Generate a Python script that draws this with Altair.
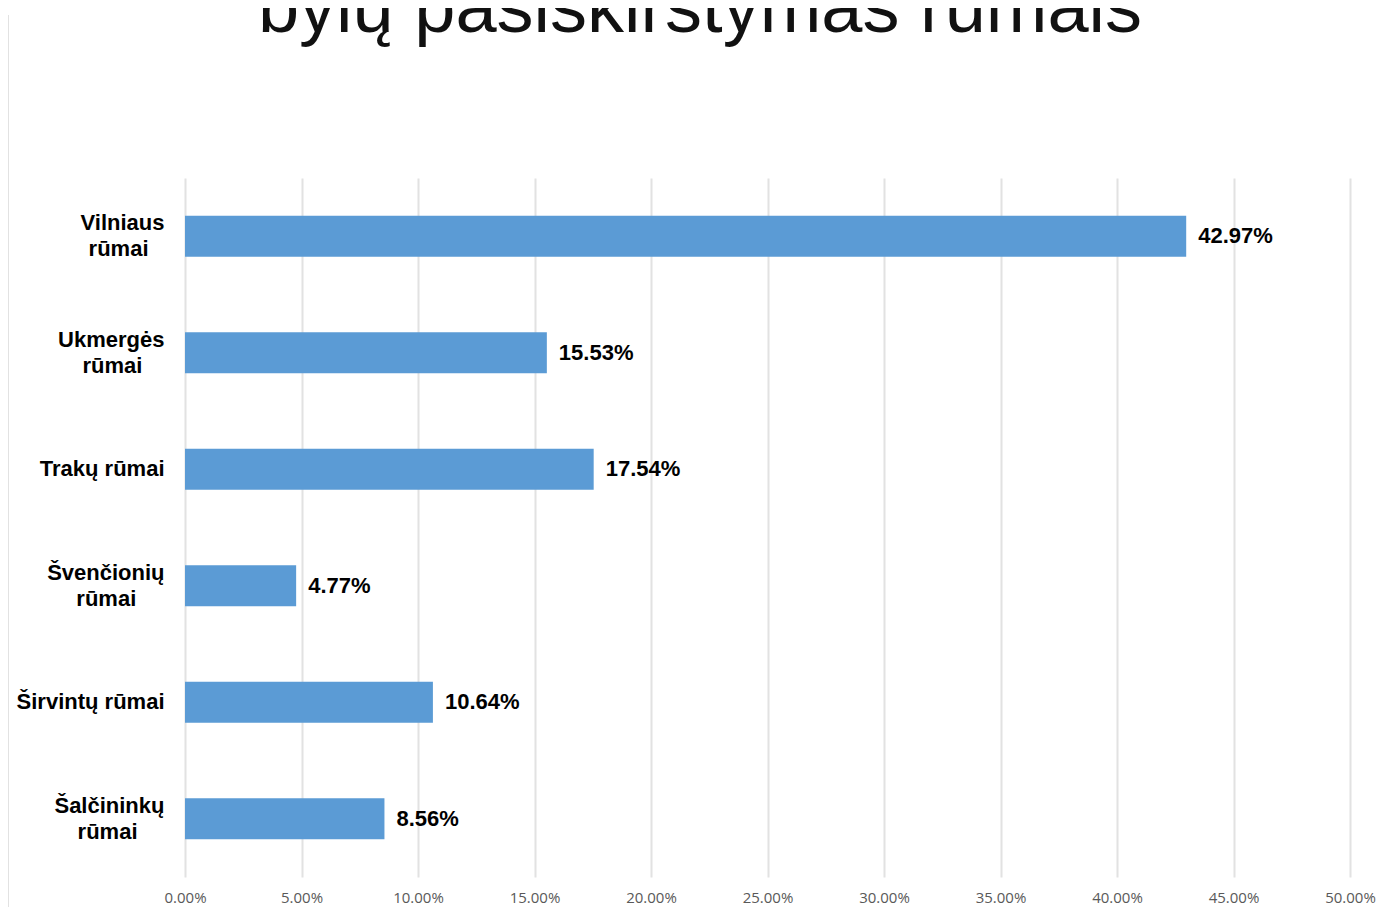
import altair as alt
import pandas as pd

categories = [
    "Vilniaus|rūmai\u2800",
    "Ukmergės|rūmai\u00a0\u2800",
    "Trakų rūmai",
    "Švenčionių|rūmai\u2007\u2800",
    "Širvintų rūmai",
    "Šalčininkų|rūmai\u2002\u2800",
]
values = [0.4297, 0.1553, 0.1754, 0.0477, 0.1064, 0.0856]
tick_values = [0, 0.05, 0.10, 0.15, 0.20, 0.25, 0.30, 0.35, 0.40, 0.45, 0.50]
title_text = "bylų pasiskirstymas rūmais"

df = pd.DataFrame({"cat": categories, "val": values})

x_enc = alt.X(
    "val:Q",
    scale=alt.Scale(domain=[0, 0.5], nice=False),
    axis=alt.Axis(
        values=tick_values,
        format=".2%",
        title=None,
        domain=False,
        ticks=False,
        grid=True,
        gridColor="#e2e2e2",
        gridWidth=2,
        labelFont="Open Sans",
        labelFontSize=15,
        labelColor="#595959",
        labelPadding=13,
        labelBaseline="top",
        labelFlush=False,
    ),
)
y_enc = alt.Y(
    "cat:N",
    sort=categories,
    scale=alt.Scale(paddingInner=0, paddingOuter=0),
    axis=alt.Axis(
        title=None,
        domain=False,
        ticks=False,
        grid=False,
        labelExpr="split(datum.value, '|')",
        labelFont="Liberation Sans",
        labelFontSize=22,
        labelFontWeight="bold",
        labelColor="#000000",
        labelLineHeight=26,
        labelPadding=21,
        labelLimit=400,
        labelAlign="right",
        labelBaseline="middle",
        labelOffset={"condition": {"test": "indexof(datum.value, '|') >= 0", "value": -13}, "value": 0},
    ),
)

bars = alt.Chart(df).mark_bar(size=41, color="#5b9bd5").encode(x=x_enc, y=y_enc)
texts = alt.Chart(df).mark_text(
    align="left", baseline="middle", dx=12,
    font="Liberation Sans", fontSize=22, fontWeight="bold", color="#000000",
).encode(x="val:Q", y=alt.Y("cat:N", sort=categories), text=alt.Text("val:Q", format=".2%"))

border = alt.Chart(df).mark_rule(color="#e2e2e2", strokeWidth=2).encode(
    x=alt.value(-177), y=alt.value(-163), y2=alt.value(740)
)

title = alt.Chart(pd.DataFrame({"t": [title_text]})).mark_text(
    font="Liberation Sans", fontSize=74, color="#111111",
    align="center", baseline="alphabetic",
).encode(text="t:N", x=alt.value(515), y=alt.value(-146))

chart = alt.layer(border, bars, texts, title).properties(
    width=1165,
    height=699,
    padding={"left": 177, "top": 170, "right": 26, "bottom": 30},
    autosize=alt.AutoSizeParams(type="none"),
).configure_view(stroke=None)

chart.save("out.html", embed_options={"renderer": "svg", "actions": False})
